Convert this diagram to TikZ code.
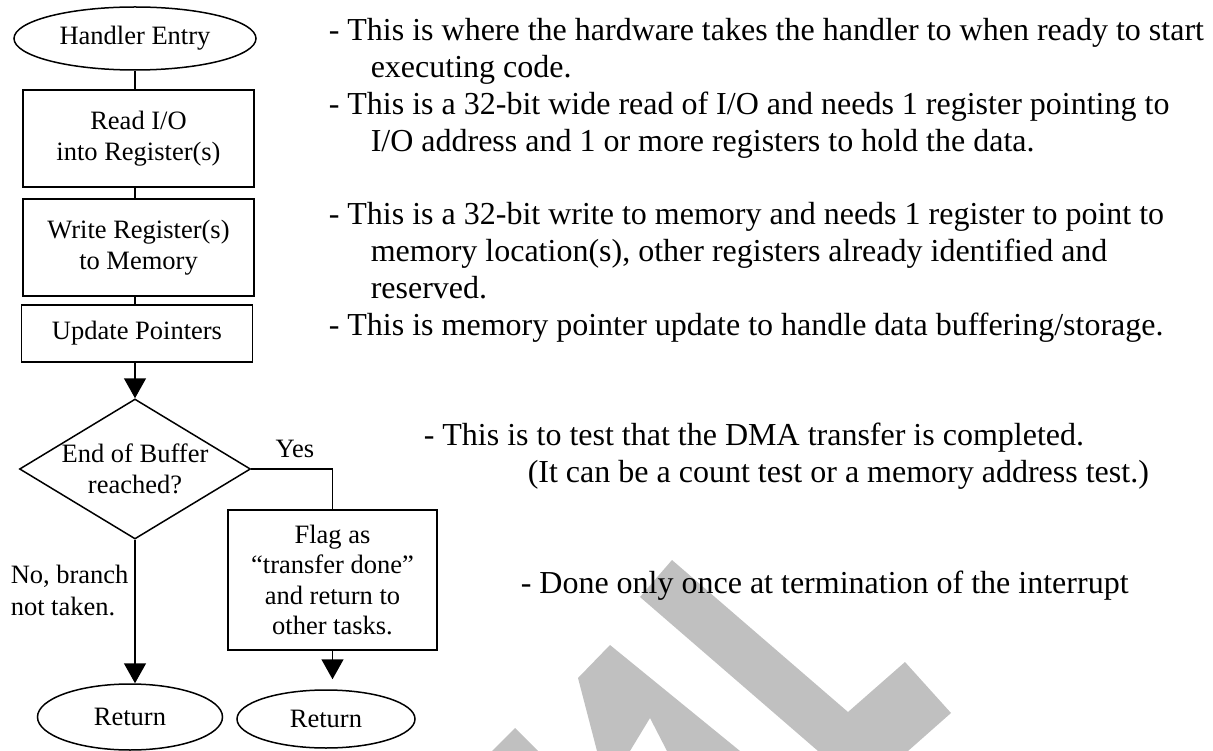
\documentclass[tikz,border=0pt]{standalone}
\usepackage{fontspec}
\setmainfont{Liberation Serif}
\usetikzlibrary{shapes.geometric,arrows.meta}
\definecolor{wmgray}{RGB}{192,192,192}

\begin{document}
\begin{tikzpicture}[x=1pt, y=-1pt, line width=1.5pt,
                    every node/.style={inner sep=0pt, align=center,
                                       font=\fontsize{26.5}{30.5}\selectfont},
                    term/.style={draw, ellipse},
                    box/.style={draw, rectangle, minimum width=231pt},
                    decision/.style={draw, diamond, aspect=1.65,
                                     minimum width=231pt, minimum height=140pt},
                    note/.style={anchor=base west, font=\fontsize{32}{37}\selectfont},
                    arr/.style={-{Triangle[length=20pt,width=22pt]}}]
                      \useasboundingbox (0,0) rectangle (1213,751);

                      % watermark behind everything
                      \fill[wmgray] (492,751) -- (515,728) -- (538,751) -- cycle;
                      \fill[wmgray] (597,751) -- (578,678) -- (610,645) -- (740,751)
                                 -- (667,751) -- (650,718) -- (630,751) -- cycle;
                      \fill[wmgray] (818,751) -- (640,597) -- (672,560) -- (848,712)
                                 -- (905,662) -- (951,713) -- (908,751) -- cycle;

                      \node[term, minimum width=242pt, minimum height=63pt] (entry) at (135,38.5) {Handler Entry};
                      \node[box, minimum height=97pt] (readio) at (138.5,138.5) {Read I/O\\into Register(s)};
                      \node[box, minimum height=97pt] (writemem) at (138.5,247.5) {Write Register(s)\\to Memory};
                      \node[box, minimum height=57pt] (update) at (137,333.5) {Update Pointers};
                      \node[decision] (endbuf) at (135,469) {End of Buffer\\reached?};
                      \node[box, minimum width=209pt, minimum height=140pt] (flag) at (332.5,580)
                              {Flag as\\“transfer done”\\and return to\\other tasks.};
                      \node[term, minimum width=185pt, minimum height=66pt] (retno) at (130,717) {Return};
                      \node[term, minimum width=178pt, minimum height=58pt] (retyes) at (326,719) {Return};
                      \node[anchor=base] (yes) at (295,457) {Yes};
                      \node[anchor=base west] (nobr) at (10,583) {No, branch};
                      \node[anchor=base west] (notaken) at (10,615) {not taken.};

                      \foreach \i/\j in {entry/readio, readio/writemem, writemem/update} {
                              \draw (\i.south -| entry) -- (\j.north -| entry);
                          }
                      \draw[arr] (update.south -| entry) -- (endbuf.north);
                      \draw (endbuf.east) -| (flag.north);
                      \draw[arr] (endbuf.south) -- (endbuf.south |- retno.north);
                      \draw[arr, shorten >=10pt] (flag.south) -- (flag.south |- retyes.north);

                      \foreach \x/\y/\t [count=\i] in {
                              328/41/{- This is where the hardware takes the handler to when ready to start},
                              370/78/{executing code.},
                              328/115/{- This is a 32-bit wide read of I/O and needs 1 register pointing to},
                              370/152/{I/O address and 1 or more registers to hold the data.},
                              328/225/{- This is a 32-bit write to memory and needs 1 register to point to},
                              370/262/{memory location(s), other registers already identified and},
                              370/299/{reserved.},
                              328/336/{- This is memory pointer update to handle data buffering/storage.},
                              423/445/{- This is to test that the DMA transfer is completed.},
                              527/482/{(It can be a count test or a memory address test.)},
                              520/593/{- Done only once at termination of the interrupt}} {
                              \node[note] (note\i) at (\x,\y) {\t};
                          }
                  \end{tikzpicture}
\end{document}
